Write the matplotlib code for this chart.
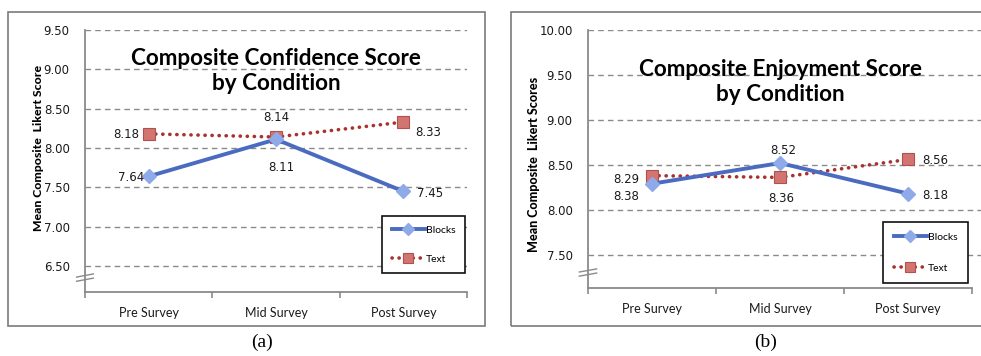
import matplotlib
matplotlib.use("Agg")
import matplotlib.pyplot as plt
from matplotlib.patches import Rectangle
from matplotlib.lines import Line2D

# data
categories = ["Pre Survey", "Mid Survey", "Post Survey"]

conf_blocks = [7.64, 8.11, 7.45]
conf_text = [8.18, 8.14, 8.33]
conf_ticks = [6.50, 7.00, 7.50, 8.00, 8.50, 9.00, 9.50]

enjoy_blocks = [8.29, 8.52, 8.18]
enjoy_text = [8.38, 8.36, 8.56]
enjoy_ticks = [7.50, 8.00, 8.50, 9.00, 9.50, 10.00]

W, H = 981, 356
BLUE = "#4A6BC0"
BLUE_FILL = "#8FAAE8"
RED = "#A8322E"
RED_FILL = "#D27470"
GRID = "#8A8A8A"
DOTS = (0, (0.05, 1.9))


def fx(px):
    return px / W


def fy(py):
    return 1 - py / H


def draw_panel(ax, blocks, text, ticks, ylim, xmax, title, title_y, ylabel,
               label_offsets, break_y, ylabel_size, ylabel_xy):
    xs = [0.5, 1.5, 2.5]
    ax.set_xlim(0, xmax)
    ax.set_ylim(*ylim)
    for t in ticks:
        ax.axhline(t, color=GRID, lw=1.0, ls=(0, (4, 3)), zorder=1)

    ax.plot(xs, blocks, color=BLUE, lw=2.8, marker="D", ms=7.5,
            mfc=BLUE_FILL, mec=BLUE_FILL, zorder=4)
    ax.plot(xs, text, color=RED, lw=2.6, ls=DOTS,
            dash_capstyle="round", marker="s", ms=8,
            mfc=RED_FILL, mec="#B05050", mew=0.8, zorder=3)

    vals = [(xs[i], blocks[i]) for i in range(3)] + [(xs[i], text[i]) for i in range(3)]
    for (x, y), (dx, dy) in zip(vals, label_offsets):
        ax.annotate(f"{y:.2f}", (x, y), xytext=(dx, dy), textcoords="offset pixels",
                    ha="center", va="center", fontsize=8.5, family="DejaVu Sans",
                    color="#1a1a1a", zorder=5)

    ax.set_yticks(ticks)
    ax.set_yticklabels([f"{t:.2f}" for t in ticks], fontsize=8.5, family="DejaVu Sans",
                       color="#1a1a1a")
    ax.tick_params(axis="y", length=0, pad=11)
    ax.set_xticks([0, 1, 2, 3])
    ax.set_xticklabels([])
    ax.set_xticks(xs, minor=True)
    ax.set_xticklabels(categories, minor=True, fontsize=9, family="Lato",
                       color="#1a1a1a")
    ax.tick_params(axis="x", which="major", length=4, color=GRID, width=1.2)
    ax.tick_params(axis="x", which="minor", length=0, pad=11)

    for s in ["top", "right"]:
        ax.spines[s].set_visible(False)
    for s in ["left", "bottom"]:
        ax.spines[s].set_color(GRID)
        ax.spines[s].set_linewidth(1.3)
    ax.spines["bottom"].set_bounds(0, 3)
    ax.spines["left"].set_bounds(ylim[0], ticks[-1])

    ax.text(1.5, title_y, title, ha="center", va="center", fontsize=16.2,
            family="Lato", weight="bold", linespacing=1.2)
    ax.set_ylabel(ylabel, fontsize=ylabel_size, family="Lato", weight="black")
    ax.yaxis.set_label_coords(*ylabel_xy)

    # axis break mark
    for d in (-0.008, 0.008):
        ax.plot([-0.022, 0.022], [break_y + d - 0.006, break_y + d + 0.006],
                color=GRID, lw=1.0, clip_on=False, zorder=6,
                transform=ax.transAxes)

    legend_handles = [
        Line2D([], [], color=BLUE, lw=2.8, marker="D", ms=6.5,
               mfc=BLUE_FILL, mec=BLUE_FILL),
        Line2D([], [], color=RED, lw=2.6, ls=DOTS,
               dash_capstyle="round", marker="s", ms=7,
               mfc=RED_FILL, mec="#B05050", mew=0.8),
    ]
    return legend_handles


fig = plt.figure(figsize=(W / 100, H / 100), dpi=100)

# panel frames
fig.add_artist(Rectangle((fx(8), fy(326)), fx(477), 314 / H, transform=fig.transFigure,
                         fill=False, ec="#7A7A7A", lw=1.2))
fig.add_artist(Rectangle((fx(511), fy(326)), fx(480), 314 / H, transform=fig.transFigure,
                         fill=False, ec="#7A7A7A", lw=1.2))

# left panel
ax1 = fig.add_axes([fx(85), fy(292), fx(382), 262 / H])
h = draw_panel(ax1, conf_blocks, conf_text, conf_ticks, (6.17, 9.50), 3.0,
               "Composite Confidence Score\nby Condition", 8.98,
               "Mean Composite  Likert Score",
               [(-18, -1), (5, -28), (27, -2), (-22, -1), (0, 20), (25, -10)],
               0.055, 8.8, (-0.108, 0.548))
leg = ax1.legend(h, ["Blocks", "Text"], loc="upper right",
                 bbox_to_anchor=(fx(465), fy(216)), bbox_transform=fig.transFigure,
                 borderaxespad=0, fancybox=False, edgecolor="#111111", framealpha=1,
                 prop={"family": "Lato", "size": 7.5}, handlelength=3.2,
                 handletextpad=0.1, labelspacing=1.9, borderpad=0.9)
leg.get_frame().set_linewidth(1.2)
leg.set_zorder(10)

# right panel
ax2 = fig.add_axes([fx(588), fy(288), fx(393), 258 / H])
h = draw_panel(ax2, enjoy_blocks, enjoy_text, enjoy_ticks, (7.13, 10.00), 3.07,
               "Composite Enjoyment Score\nby Condition", 9.42,
               "Mean Composite  Likert Scores",
               [(-26, 4), (3, 13), (27, -2), (-26, -21), (1, -21), (27, -1)],
               0.06, 9.0, (-0.122, 0.477))
leg = ax2.legend(h, ["Blocks", "Text"], loc="upper right",
                 bbox_to_anchor=(fx(968), fy(222)), bbox_transform=fig.transFigure,
                 borderaxespad=0, fancybox=False, edgecolor="#111111", framealpha=1,
                 prop={"family": "Lato", "size": 7.5}, handlelength=3.2,
                 handletextpad=0.1, labelspacing=2.1, borderpad=1.0)
leg.get_frame().set_linewidth(1.2)
leg.set_zorder(10)

fig.text(fx(262), fy(342), "(a)", ha="center", va="center", fontsize=14,
         family="Liberation Serif")
fig.text(fx(766), fy(342), "(b)", ha="center", va="center", fontsize=14,
         family="Liberation Serif")

fig.savefig("out.png", dpi=100)
